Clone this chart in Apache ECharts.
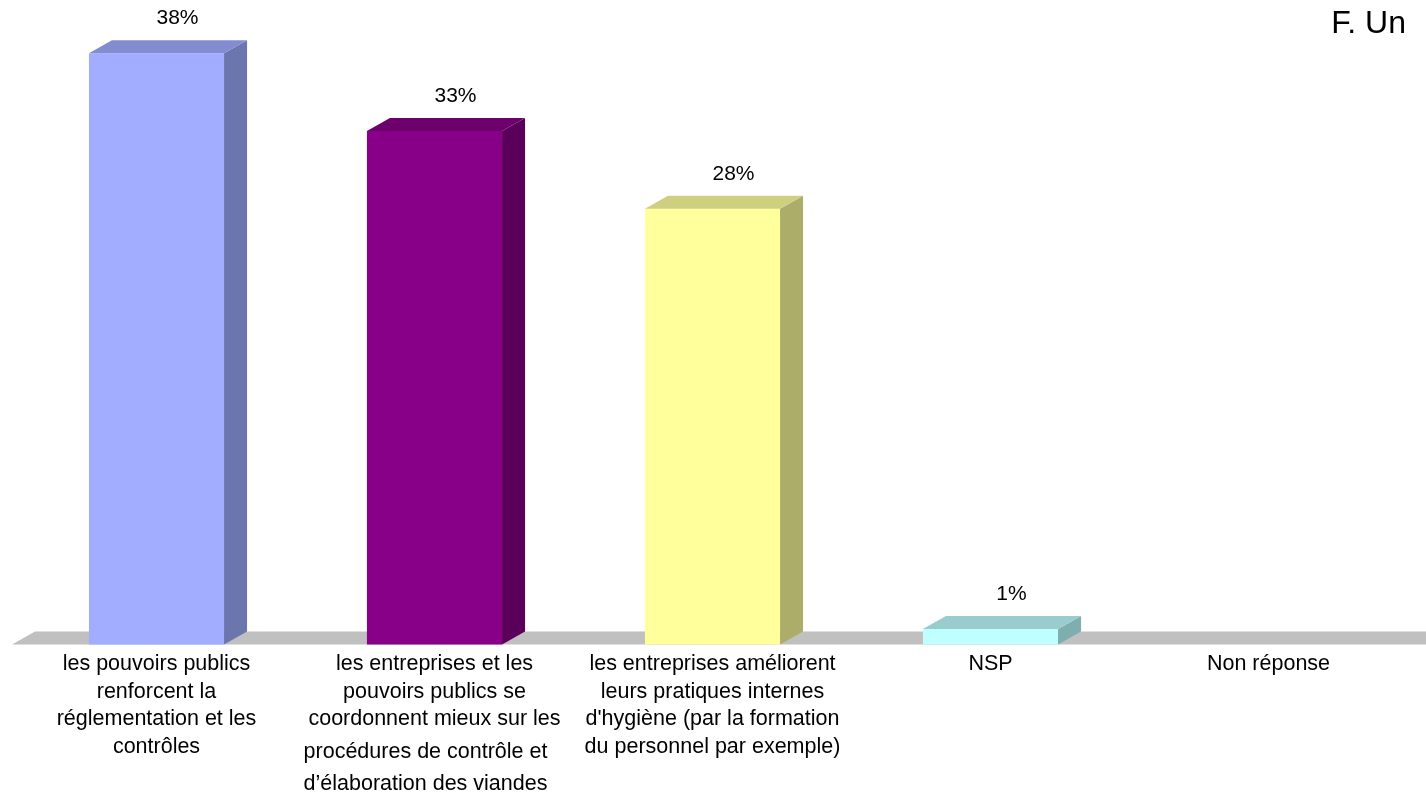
<!DOCTYPE html>
<html>
<head>
<meta charset="utf-8">
<script src="https://cdn.jsdelivr.net/npm/echarts@6/dist/echarts.min.js"></script>
<style>
  html, body { margin: 0; padding: 0; background: #fff; }
  #chart { width: 1426px; height: 797px; }
</style>
</head>
<body>
<div id="chart"></div>
<script>
// Answer categories (line breaks as printed under each bar)
const categories = [
  'les pouvoirs publics\nrenforcent la\nréglementation et les\ncontrôles',
  'les entreprises et les\npouvoirs publics se\ncoordonnent mieux sur les\nprocédures de contrôle et\nd’élaboration des viandes',
  'les entreprises améliorent\nleurs pratiques internes\nd\'hygiène (par la formation\ndu personnel par exemple)',
  'NSP',
  'Non réponse'
];
// Share of respondents, in percent
const values = [38, 33, 28, 1, 0];
const titleText = 'F. Un';

// Face colours for each bar: front, side, top
const palette = [
  { front: '#a3adff', side: '#6b76ae', top: '#838cd0' },
  { front: '#880088', side: '#5a005a', top: '#6e006e' },
  { front: '#ffff9c', side: '#adad6a', top: '#cfcf80' },
  { front: '#bfffff', side: '#80adad', top: '#99cccc' },
  { front: '#c0c0c0', side: '#909090', top: '#a8a8a8' }
];

const DX = 23, DY = 13;           // depth offset of the 3D extrusion
const FONT = '"Liberation Sans", Arial, Helvetica, sans-serif';
const CAT_SIZE = 21.5;

function renderFloor(params, api) {
  const cs = params.coordSys;
  const base = api.coord([0, 0])[1];
  const xl = cs.x - 5.5, xr = cs.x + cs.width + 18.5;
  return {
    type: 'polygon',
    shape: { points: [[xl, base], [xl + DX, base - DY], [xr + DX, base - DY], [xr, base]] },
    style: { fill: '#c0c0c0' }
  };
}

function renderBar(params, api) {
  const v = api.value(1);
  if (!v) return null;
  const i = params.dataIndex;
  const c = palette[i];
  const b = api.coord([api.value(0), 0]);
  const t = api.coord([api.value(0), v]);
  const bw = api.size([1, 0])[0] * 0.486;
  const xl = b[0] - bw / 2, xr = b[0] + bw / 2, yb = b[1], yt = t[1];
  return {
    type: 'group',
    children: [
      { type: 'polygon', shape: { points: [[xl, yb], [xr, yb], [xr, yt], [xl, yt]] }, style: { fill: c.front } },
      { type: 'polygon', shape: { points: [[xr, yb], [xr + DX, yb - DY], [xr + DX, yt - DY], [xr, yt]] }, style: { fill: c.side } },
      { type: 'polygon', shape: { points: [[xl, yt], [xr, yt], [xr + DX, yt - DY], [xl + DX, yt - DY]] }, style: { fill: c.top } },
      {
        type: 'text', x: b[0] + 21, y: yt - DY - 22,
        style: { text: v + '%', fill: '#000', font: '21px ' + FONT, align: 'center', verticalAlign: 'middle' }
      }
    ]
  };
}

const chart = echarts.init(document.getElementById('chart'), null, { renderer: 'canvas' });
chart.setOption({
  animation: false,
  backgroundColor: '#fff',
  title: {
    text: titleText, right: 20, top: 8, padding: 0,
    textStyle: { fontFamily: FONT, fontSize: 32, fontWeight: 'normal', color: '#000' }
  },
  grid: { left: 17.5, right: 18.5, top: 22, bottom: 151 },
  xAxis: {
    type: 'category',
    data: categories,
    axisLine: { show: false },
    axisTick: { show: false },
    axisLabel: {
      interval: 0,
      margin: 6,
      color: '#000',
      fontFamily: FONT,
      fontSize: CAT_SIZE,
      lineHeight: 27.5,
      formatter: function (val, idx) {
        const lines = val.split('\n');
        return lines.map(function (l, k) {
          if (idx === 1 && k === 3) return '{b|' + l + '}';
          if (idx === 1 && k === 4) return '{c|' + l + '}';
          return '{a|' + l + '}';
        }).join('\n');
      },
      rich: {
        a: { fontFamily: FONT, fontSize: CAT_SIZE, lineHeight: 27.5, color: '#000' },
        b: { fontFamily: FONT, fontSize: CAT_SIZE, lineHeight: 38.5, color: '#000', padding: [0, 18, 0, 0] },
        c: { fontFamily: FONT, fontSize: CAT_SIZE, lineHeight: 25.5, color: '#000', padding: [0, 18, 0, 0] }
      }
    }
  },
  yAxis: {
    type: 'value', min: 0, max: 40,
    show: false,
    splitLine: { show: false }
  },
  series: [
    {
      type: 'custom',
      renderItem: renderFloor,
      data: [[0, 0]],
      clip: false,
      silent: true,
      z: 1
    },
    {
      type: 'custom',
      renderItem: renderBar,
      data: values.map(function (v, i) { return [i, v]; }),
      clip: false,
      z: 2
    }
  ]
});
</script>
</body>
</html>
